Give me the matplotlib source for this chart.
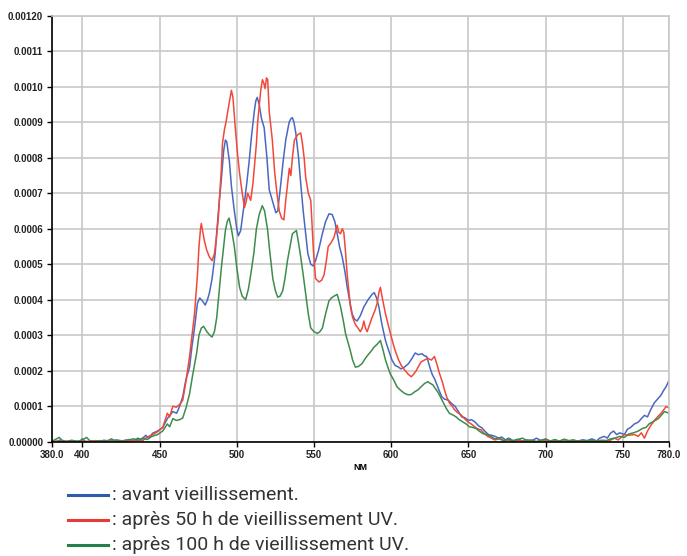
import matplotlib
matplotlib.use('Agg')
import matplotlib.pyplot as plt
from matplotlib.lines import Line2D
import numpy as np

# spectra (wavelength in nm, intensity in units of 1e-4)
nm_avant = [380, 383, 386, 390, 394, 398, 400, 402, 406, 410, 414, 418, 422, 426, 430, 433, 436, 438, 441, 443,
            445.5, 448.7, 452, 455, 458.6, 461, 463, 465, 467, 469.4, 471, 472.6, 474.5, 476, 478, 479.5, 481, 482.3,
            484, 486, 487, 488.5, 490, 491.5, 492.6, 493.5, 495.2, 496.5, 498.4, 500, 501, 502.5, 504.8, 506.5, 508,
            509.5, 511.3, 512.3, 513.2, 514.5, 516, 517.7, 519.5, 521, 523, 525.3, 526.5, 528.5, 530, 531.7, 533.9,
            535, 536, 537, 538.2, 540, 541.4, 543, 544.6, 546, 547.9, 549.5, 551, 553, 555.4, 557.5, 559.7, 561.8,
            563.5, 565, 566.5, 568.3, 570, 571.5, 573, 574.7, 576.3, 577.9, 580, 582.3, 585, 587.6, 589, 590.5, 592,
            594, 596.3, 598.5, 600.5, 602.5, 604.8, 606.3, 608.5, 611.2, 613.5, 615.5, 617.5, 619.9, 621.5, 623, 625,
            626.5, 628.4, 630.5, 632.7, 634.5, 637, 639, 641.3, 643.5, 645.6, 647.5, 650, 652, 654.4, 656.5, 658.7,
            661, 663, 665, 667.3, 669.5, 671.6, 674, 676, 679, 682, 685, 688, 691, 694, 697, 700, 703, 706, 709, 712,
            715, 718, 721, 724, 727, 730, 733, 735, 738, 740, 742, 744, 746, 748, 751, 753, 755, 757.5, 760, 762, 764,
            766, 768, 770.5, 772.5, 774.7, 776.5, 778, 780]
i_avant = [0.02, 0.0, 0.05, 0.0, 0.03, 0.0, 0.08, 0.0, 0.02, 0.0, 0.04, 0.01, 0.05, 0.02, 0.06, 0.03, 0.1, 0.05, 0.18,
           0.1, 0.24, 0.3, 0.4, 0.65, 0.85, 0.8, 1.0, 1.27, 1.74, 2.1, 2.7, 3.2, 3.9, 4.05, 3.95, 3.85, 4.0, 4.2, 4.6,
           5.3, 5.9, 6.7, 7.4, 8.2, 8.5, 8.45, 7.9, 7.2, 6.5, 6.0, 5.8, 5.95, 6.7, 7.3, 7.9, 8.6, 9.3, 9.6, 9.7, 9.5,
           9.1, 8.85, 8.0, 7.1, 6.8, 6.45, 6.5, 7.27, 7.9, 8.5, 9.0, 9.1, 9.13, 9.0, 8.7, 8.0, 7.27, 6.5, 5.86, 5.3,
           5.0, 4.95, 5.1, 5.4, 5.86, 6.2, 6.42, 6.4, 6.2, 5.86, 5.5, 5.2, 4.8, 4.35, 4.0, 3.6, 3.45, 3.4, 3.55, 3.8,
           4.0, 4.15, 4.2, 4.05, 3.8, 3.3, 2.85, 2.55, 2.3, 2.15, 2.1, 2.05, 2.1, 2.2, 2.35, 2.5, 2.45, 2.48, 2.42,
           2.4, 2.1, 1.9, 1.74, 1.5, 1.27, 1.2, 1.17, 1.08, 1.0, 0.85, 0.7, 0.68, 0.6, 0.62, 0.55, 0.45, 0.39, 0.28,
           0.2, 0.18, 0.15, 0.1, 0.13, 0.05, 0.1, 0.03, 0.07, 0.02, 0.05, 0.02, 0.1, 0.03, 0.06, 0.0, 0.04, 0.02,
           0.06, 0.01, 0.04, 0.02, 0.05, 0.03, 0.08, 0.02, 0.1, 0.15, 0.1, 0.24, 0.3, 0.2, 0.25, 0.2, 0.35, 0.4, 0.5,
           0.55, 0.65, 0.74, 0.7, 0.9, 1.1, 1.2, 1.31, 1.45, 1.55, 1.73]

nm_50h = [380, 384, 388, 392, 396, 400, 404, 408, 412, 416, 420, 424, 428, 432, 436, 439, 441, 443, 445.5, 448.7, 452,
          455, 456.5, 458.6, 460.8, 463, 465, 467.2, 469.4, 471, 472.6, 474.5, 475.5, 476.5, 477, 478, 479, 480.5,
          482.3, 484, 485.5, 486.8, 488, 489, 490, 490.7, 492, 493, 494.5, 496.5, 497.5, 499, 500.5, 501.7, 503.5,
          505, 506, 507, 508, 509, 510.5, 512.7, 513.5, 514.6, 515.5, 516.6, 517.5, 518.3, 519.2, 520, 521, 522, 523,
          524.5, 526, 527.5, 529, 530.5, 531.7, 533, 534, 535, 536, 537.3, 539.5, 541.4, 542.5, 543.6, 544.6, 546.3,
          547.9, 549.6, 551, 553.2, 555, 556.5, 558, 559.2, 561, 562.9, 565, 566, 567.2, 568.3, 569.3, 570.5, 571.5,
          573.6, 575, 576.8, 578.5, 580, 581.2, 582.3, 583.3, 584.4, 586, 587.6, 589.5, 590.9, 592, 593, 594, 596.3,
          598, 599.5, 601, 602.7, 604.8, 606.5, 608.7, 611, 613, 614.5, 616.2, 618, 619.4, 621.5, 623.7, 626, 628,
          629.5, 631.2, 633, 634.5, 636, 637.7, 639.5, 641, 643, 645.3, 647.5, 649.6, 651.8, 654, 656, 658.2, 660.5,
          662.5, 665, 667, 670, 673, 676, 679, 682, 686, 690, 694, 698, 702, 706, 710, 714, 718, 722, 726, 730, 734,
          738, 741, 744.6, 747, 751, 754, 757.5, 760, 762, 764, 766, 768, 770.5, 772.5, 774.7, 776.5, 778, 780]
i_50h = [0.0, 0.02, 0.0, 0.03, 0.0, 0.02, 0.0, 0.03, 0.01, 0.02, 0.04, 0.01, 0.04, 0.02, 0.05, 0.03, 0.1, 0.15, 0.2,
         0.28, 0.4, 0.8, 0.7, 1.0, 0.97, 1.05, 1.17, 1.74, 2.4, 3.0, 3.6, 4.7, 5.5, 6.0, 6.15, 5.9, 5.66, 5.4, 5.2,
         5.1, 5.3, 5.75, 6.3, 7.0, 7.7, 8.4, 8.8, 9.0, 9.4, 9.9, 9.7, 8.85, 8.1, 7.6, 7.0, 6.6, 6.75, 7.0, 6.9, 6.8,
         7.3, 8.4, 9.0, 9.5, 9.9, 10.2, 10.1, 9.95, 10.25, 10.2, 9.3, 8.9, 8.5, 7.6, 7.0, 6.5, 6.3, 6.25, 6.8, 7.3,
         7.7, 7.5, 8.0, 8.5, 8.65, 8.7, 8.4, 8.0, 7.45, 7.0, 6.8, 5.4, 4.6, 4.5, 4.55, 4.7, 5.1, 5.5, 5.6, 5.75, 6.1,
         5.9, 5.86, 6.0, 5.9, 5.3, 4.7, 3.8, 3.5, 3.3, 3.2, 3.1, 3.2, 3.4, 3.2, 3.1, 3.3, 3.5, 3.7, 3.9, 4.2, 4.35,
         4.1, 3.6, 3.3, 3.05, 2.8, 2.55, 2.3, 2.15, 2.02, 1.9, 1.83, 1.9, 2.0, 2.15, 2.25, 2.3, 2.35, 2.3, 2.4, 2.2,
         1.93, 1.7, 1.46, 1.25, 1.09, 1.0, 0.9, 0.82, 0.75, 0.65, 0.56, 0.5, 0.42, 0.36, 0.33, 0.22, 0.15, 0.1, 0.05,
         0.08, 0.02, 0.05, 0.0, 0.04, 0.01, 0.03, 0.0, 0.04, 0.01, 0.03, 0.0, 0.03, 0.01, 0.02, 0.0, 0.03, 0.01,
         0.04, 0.02, 0.1, 0.05, 0.2, 0.18, 0.2, 0.15, 0.25, 0.1, 0.3, 0.45, 0.6, 0.7, 0.8, 0.9, 0.99, 0.95]

nm_100h = [380, 382, 385, 387, 390, 393, 396, 399, 402.7, 405, 408, 411, 414, 417, 418.8, 421, 424, 427, 430, 433,
           436, 439, 442, 445, 448.7, 452, 455, 456.5, 458.6, 460.8, 463, 465, 467.2, 469.4, 471.5, 474, 475.5, 477,
           478.5, 480.6, 482.5, 484, 485.5, 487, 488.5, 490, 491.5, 492.6, 493.8, 495, 496.5, 498.4, 500, 501.8,
           503.5, 505.7, 507.5, 509, 511, 512.7, 514.5, 516.5, 518, 520, 521, 523.3, 525, 526.5, 528, 529.7, 531.2,
           532.8, 534.5, 536, 538.6, 540, 541.4, 543, 544.6, 546.3, 547.9, 550, 552.2, 553.8, 555.4, 557.5, 559.7,
           561.3, 562.9, 565, 566, 567.2, 569, 570.4, 572, 573.6, 575, 576.8, 578.8, 581.1, 583.3, 585.4, 587, 588.6,
           591, 593, 594.6, 596.3, 598, 599.5, 601.5, 603.7, 606, 608.7, 611, 613, 615, 617.3, 619.5, 621.6, 623.7,
           625, 627, 628.5, 630.2, 632, 633.4, 635.5, 637.7, 640, 642, 644, 646.3, 648.5, 650.6, 653, 655, 657, 659.3,
           662, 664.6, 667, 670, 673, 676, 679, 682, 685, 688, 691, 694, 697, 700, 703, 706, 709, 712, 715, 718, 721,
           724, 727, 730, 733, 736, 739, 742, 745, 748, 751, 754, 757, 760, 763, 765, 767, 769, 771, 773, 775, 777, 780]
i_100h = [0.0, 0.05, 0.12, 0.02, 0.0, 0.04, 0.01, 0.03, 0.12, 0.02, 0.0, 0.03, 0.01, 0.04, 0.08, 0.02, 0.03, 0.0,
          0.05, 0.08, 0.04, 0.1, 0.06, 0.15, 0.2, 0.3, 0.5, 0.42, 0.65, 0.6, 0.62, 0.67, 0.97, 1.35, 1.9, 2.5, 3.0,
          3.2, 3.25, 3.1, 3.0, 2.95, 3.1, 3.5, 4.2, 4.9, 5.5, 5.95, 6.2, 6.3, 6.0, 5.5, 4.9, 4.35, 4.1, 4.0, 4.3, 4.7,
          5.3, 6.0, 6.4, 6.65, 6.5, 5.95, 5.5, 4.6, 4.25, 4.07, 4.1, 4.25, 4.6, 5.1, 5.5, 5.86, 5.95, 5.6, 5.2, 4.7,
          4.17, 3.6, 3.2, 3.1, 3.05, 3.1, 3.2, 3.6, 3.97, 4.05, 4.1, 4.15, 4.0, 3.8, 3.4, 3.05, 2.8, 2.55, 2.3, 2.1,
          2.12, 2.2, 2.35, 2.47, 2.55, 2.65, 2.75, 2.85, 2.6, 2.3, 2.08, 1.9, 1.75, 1.55, 1.45, 1.36, 1.32, 1.33, 1.4,
          1.46, 1.55, 1.64, 1.69, 1.65, 1.6, 1.5, 1.4, 1.25, 1.13, 0.95, 0.8, 0.75, 0.7, 0.62, 0.56, 0.5, 0.42, 0.4,
          0.37, 0.3, 0.23, 0.2, 0.15, 0.08, 0.1, 0.03, 0.07, 0.02, 0.06, 0.1, 0.03, 0.05, 0.0, 0.04, 0.08, 0.02, 0.06,
          0.01, 0.07, 0.03, 0.05, 0.0, 0.04, 0.02, 0.05, 0.01, 0.04, 0.02, 0.08, 0.1, 0.15, 0.12, 0.22, 0.25, 0.3,
          0.38, 0.4, 0.5, 0.55, 0.6, 0.65, 0.75, 0.85, 0.8]

x_ticks = [380, 400, 450, 500, 550, 600, 650, 700, 750, 780]
x_labels = ['380.0', '400', '450', '500', '550', '600', '650', '700', '750', '780.0']
y_ticks = [0.0, 0.0001, 0.0002, 0.0003, 0.0004, 0.0005, 0.0006, 0.0007, 0.0008, 0.0009, 0.0010, 0.0011, 0.0012]
y_labels = ['0.00000', '0.0001', '0.0002', '0.0003', '0.0004', '0.0005', '0.0006',
            '0.0007', '0.0008', '0.0009', '0.0010', '0.0011', '0.00120']

legend_labels = [': avant vieillissement.',
                 ': après 50 h de vieillissement UV.',
                 ': après 100 h de vieillissement UV.']
line_colors = ['#4a68c0', '#f2483a', '#3e8c4c']
legend_colors = ['#2d5bb0', '#e83a36', '#23804a']

fig = plt.figure(figsize=(6.87, 5.56), dpi=100)
ax = fig.add_axes([0.075, 0.2056, 0.899, 0.766])

series = [(nm_avant, i_avant), (nm_50h, i_50h), (nm_100h, i_100h)]
for (x, y), c in zip(series, line_colors):
    ax.plot(x, np.array(y) * 1e-4, color=c, linewidth=1.1)

ax.set_xlim(380, 780)
ax.set_ylim(0, 0.0012)
ax.set_xticks(x_ticks)
ax.set_xticklabels(x_labels)
ax.set_yticks(y_ticks)
ax.set_yticklabels(y_labels)
ax.grid(True, color='#c8c8c8', linewidth=1.2)
ax.set_axisbelow(True)

for side in ['top', 'right']:
    ax.spines[side].set_color('#c8c8c8')
    ax.spines[side].set_linewidth(1.2)
for side in ['left', 'bottom']:
    ax.spines[side].set_color('black')
    ax.spines[side].set_linewidth(1.2)

ax.tick_params(axis='both', length=3.5, width=1, color='black', labelsize=7, pad=2.5)
for lab in ax.get_xticklabels() + ax.get_yticklabels():
    lab.set_family('Liberation Sans')
    lab.set_fontweight('bold')
    lab.set_color('#222222')
ax.set_xlabel('NM', fontsize=6.5, fontweight='bold', family='Liberation Sans', labelpad=2)

# legend drawn below the plot, as in the original figure
for k, (lab, c) in enumerate(zip(legend_labels, legend_colors)):
    yy = 1 - (495 + 25 * k) / 556
    fig.add_artist(Line2D([68 / 687, 108 / 687], [yy, yy], color=c, linewidth=2.2,
                          transform=fig.transFigure))
    fig.text(112 / 687, yy, lab, fontsize=14, family='Roboto', color='#333333',
             va='center', ha='left')

fig.savefig('out.png', dpi=100)
